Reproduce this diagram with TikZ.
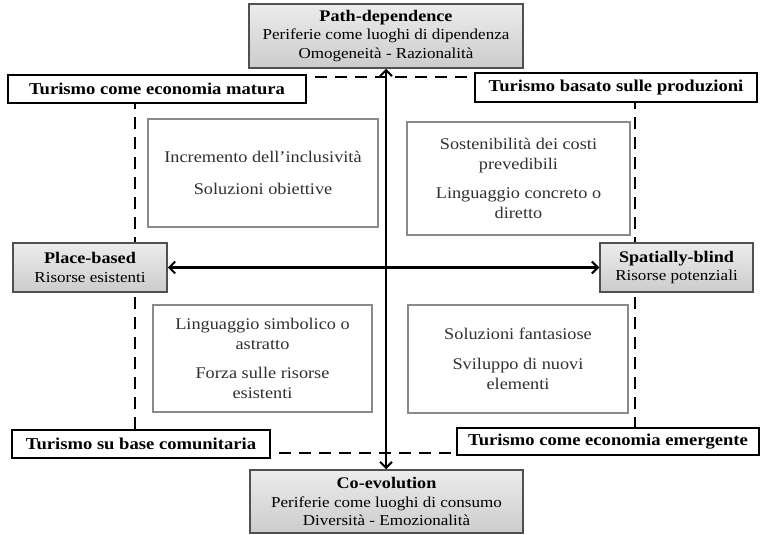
\documentclass[tikz,border=0pt]{standalone}
\usepackage{fontspec}
\setmainfont{Liberation Serif}[FakeStretch=1.12]
\usetikzlibrary{arrows.meta}
\definecolor{innertext}{HTML}{303030}
\definecolor{innerborder}{HTML}{8A8A8A}
\definecolor{polborder}{HTML}{505050}
\begin{document}
\begin{tikzpicture}[x=1pt,y=-1pt,
  labelbox/.style={draw=black,line width=1.8pt,fill=white,inner sep=0pt,align=center,
    font=\fontsize{16.6}{18}\selectfont\bfseries},
  polbox/.style={draw=polborder,line width=1.5pt,top color=gray!15,bottom color=gray!40,
    inner sep=0pt,align=center,font=\fontsize{15.2}{18.5}\selectfont},
  poltitle/.style={},
  innerbox/.style={draw=innerborder,line width=2pt,fill=white,inner sep=0pt,align=center,
    text=innertext,font=\fontsize{16.3}{20.5}\selectfont},
  dashline/.style={line width=2pt,dash pattern=on 12pt off 8pt},
  axis/.style={line width=2.2pt,{Straight Barb[length=6pt,width=12pt,line width=2pt]}-{Straight Barb[length=6pt,width=12pt,line width=2pt]}}
]
\useasboundingbox (0,0) rectangle (761,535);
\fill[white] (0,0) rectangle (761,535);
% dashed frame
\coordinate (fTL) at (135,77);
\coordinate (fBR) at (635,453);
\draw[dashline] (fTL) rectangle (fBR);
% inner boxes
\node[innerbox,minimum width=230pt,minimum height=108pt] (tl) at (263,173)
  {Incremento dell'inclusività\\[11pt]Soluzioni obiettive};
\node[innerbox,minimum width=223pt,minimum height=113pt] (tr) at (518.5,178.5)
  {Sostenibilità dei costi\\prevedibili\\[8pt]Linguaggio concreto o\\diretto};
\node[innerbox,minimum width=219pt,minimum height=107pt] (bl) at (262.5,358.5)
  {Linguaggio simbolico o\\astratto\\[8pt]Forza sulle risorse\\esistenti};
\node[innerbox,minimum width=220pt,minimum height=108pt] (br) at (518,359)
  {Soluzioni fantasiose\\[9pt]Sviluppo di nuovi\\elementi};
% label boxes
\node[labelbox,minimum width=298pt,minimum height=28pt] (matura) at (157,89) {Turismo come economia matura};
\node[labelbox,minimum width=282pt,minimum height=29pt] (produz) at (616,87.5) {Turismo basato sulle produzioni};
\node[labelbox,minimum width=258pt,minimum height=28pt] (comun) at (141,444) {Turismo su base comunitaria};
\node[labelbox,minimum width=302pt,minimum height=27pt] (emerg) at (608,441.5) {Turismo come economia emergente};
% policy boxes
\node[polbox,minimum width=274pt,minimum height=64pt] (path) at (386,36)
  {{\bfseries\fontsize{16.2}{18.5}\selectfont Path-dependence}\\Periferie come luoghi di dipendenza\\Omogeneità - Razionalità};
\node[polbox,minimum width=273pt,minimum height=63pt] (coev) at (386.5,501.5)
  {{\bfseries\fontsize{16.2}{18.5}\selectfont Co-evolution}\\Periferie come luoghi di consumo\\Diversità - Emozionalità};
\node[polbox,minimum width=154pt,minimum height=49pt] (place) at (90,267.5)
  {{\bfseries\fontsize{16.2}{18.5}\selectfont Place-based}\\Risorse esistenti};
\node[polbox,minimum width=153pt,minimum height=49pt] (blind) at (676.5,267.5)
  {{\bfseries\fontsize{16.2}{18.5}\selectfont Spatially-blind}\\Risorse potenziali};
% axes
\draw[axis] (path.south -| 386,0) -- (coev.north -| 386,0);
\draw[axis] (place.east) -- (blind.west);
\end{tikzpicture}
\end{document}
